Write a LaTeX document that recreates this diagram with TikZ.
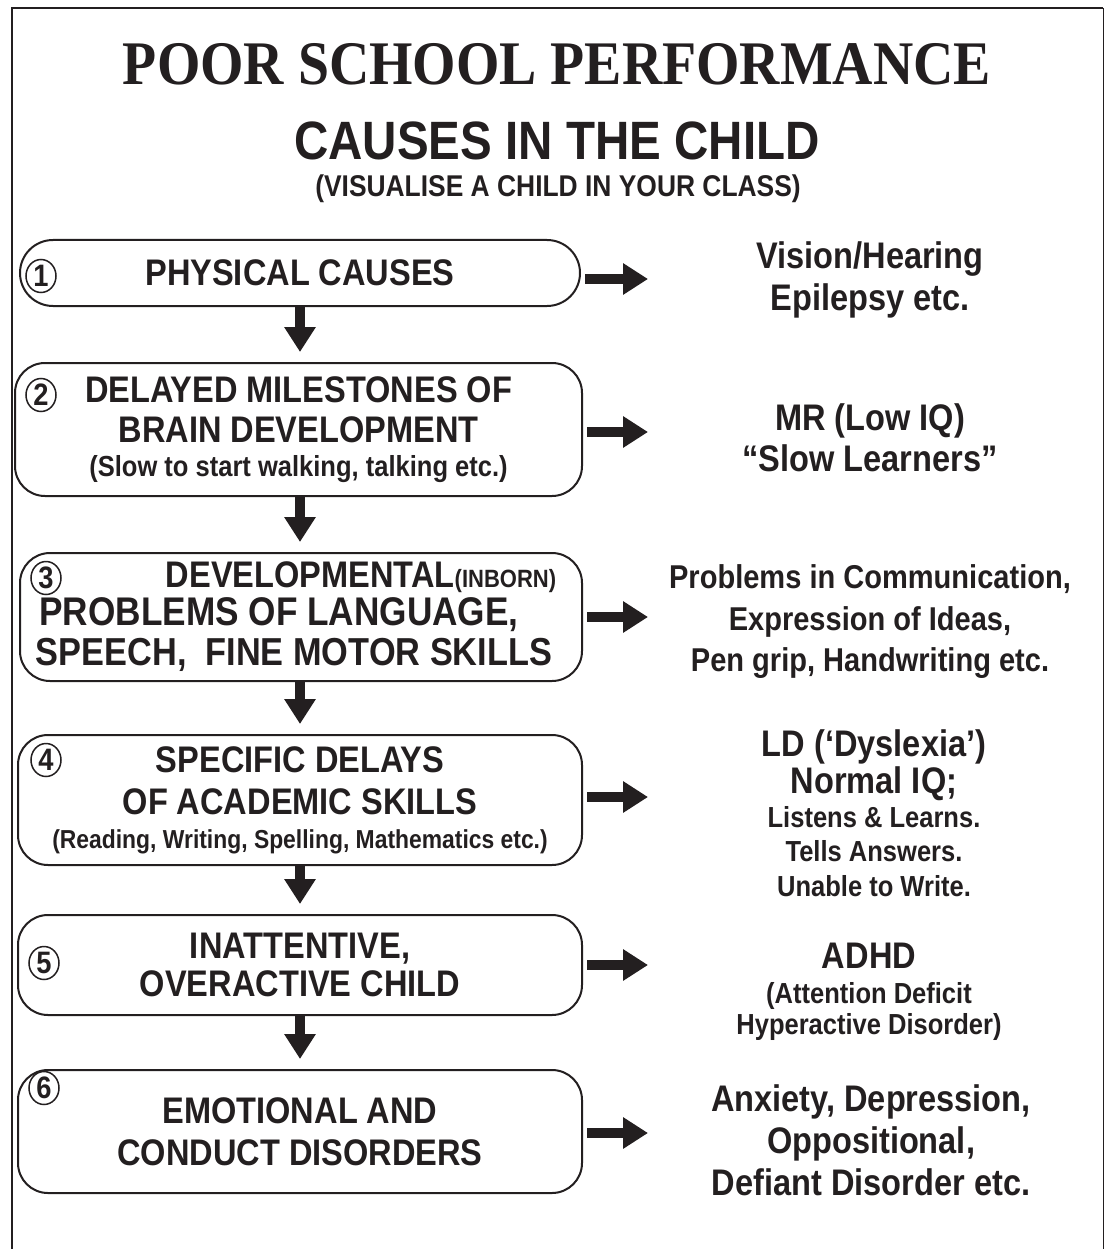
\documentclass[tikz,border=0pt]{standalone}
\usepackage{fontspec}
\setmainfont{Liberation Sans}[FakeStretch=0.88]
\newfontfamily\titlefont{Liberation Serif}[FakeStretch=0.9]
\usetikzlibrary{arrows.meta,shapes.geometric}
\definecolor{ink}{RGB}{35,31,32}
\newcommand{\bigtxt}{\fontsize{37}{42}\selectfont}
\newcommand{\smalltxt}{\fontsize{29}{33}\selectfont}
\newcommand{\tinytxt}{\fontsize{25}{28}\selectfont}

\begin{document}
\begin{tikzpicture}[x=1pt, y=-1pt,
      cause/.style={
        draw=ink,
        line width=2pt,
        rounded corners=30pt,
        align=center,
        inner sep=0pt,
        minimum width=564pt,
        text=ink,
        font=\bfseries\bigtxt
      },
      badge/.style={
        ellipse,
        draw=ink,
        line width=1.5pt,
        minimum width=30pt,
        minimum height=33pt,
        inner sep=0pt,
        text=ink,
        font=\bfseries\fontsize{31}{31}\selectfont
      },
      effect/.style={align=center, inner sep=0pt, text=ink, font=\bfseries\bigtxt},
      fat/.style={draw=ink, line width=10pt, -{Triangle[width=30pt,length=25pt]}},
      down/.style={fat, shorten >=10pt},
      side/.style={fat, shorten <=4pt}
    ]
      \useasboundingbox (0,0) rectangle (1105,1249);

      % frame, open at the bottom
      \draw[ink, line width=2.5pt] (12,1249) -- (12,8) -- (1103,8);
      \draw[ink, line width=1pt] (1103,8) -- (1103,1249);

      % headings
      \node[text=ink, font=\titlefont\bfseries\fontsize{62}{62}\selectfont] (title) at (557,64) {POOR SCHOOL PERFORMANCE};
      \node[text=ink, font=\bfseries\fontsize{54}{54}\selectfont] (sub) at (557,141) {CAUSES IN THE CHILD};
      \node[text=ink, font=\bfseries\fontsize{30}{30}\selectfont] (hint) at (558,189) {(VISUALISE A CHILD IN YOUR CLASS)};

      % causes
      \node[cause, rounded corners=33pt, minimum width=560pt, minimum height=66pt] (b1) at (300,273) {PHYSICAL CAUSES};
      \node[cause, minimum width=567pt, minimum height=133pt] (b2) at (298.5,429.5)
        {DELAYED MILESTONES OF\\[-2pt] BRAIN DEVELOPMENT\\[-8pt] {\smalltxt (Slow to start walking, talking etc.)}};
      \node[cause, minimum width=562pt, minimum height=128pt] (b3) at (301,617)
        {\hspace*{120pt}DEVELOPMENTAL{\tinytxt(INBORN)}\\[-4pt]
         {\fontsize{40}{42}\selectfont PROBLEMS OF LANGUAGE,}\kern44pt\\[-2pt]
         {\fontsize{39}{42}\selectfont SPEECH,\ \ FINE MOTOR SKILLS}\kern14pt};
      \node[cause, minimum height=130pt] (b4) at (300,800)
        {SPECIFIC DELAYS\\ OF ACADEMIC SKILLS\\[-8pt] {\fontsize{26}{30}\selectfont (Reading, Writing, Spelling, Mathematics etc.)}};
      \node[cause, minimum height=100pt] (b5) at (300,965) {INATTENTIVE,\\[-4pt] OVERACTIVE CHILD};
      \node[cause, minimum height=123pt] (b6) at (300,1131.5) {EMOTIONAL AND\\ CONDUCT DISORDERS};

      \node[badge] (n1) at (41,276) {1};
      \node[badge] (n2) at (41,395) {2};
      \node[badge] (n3) at (46,578) {3};
      \node[badge] (n4) at (46,760) {4};
      \node[badge] (n5) at (44,963) {5};
      \node[badge] (n6) at (44,1088) {6};

      % what each cause looks like
      \node[effect] (r1) at (870,280) {Vision/Hearing\\ Epilepsy etc.};
      \node[effect] (r2) at (870,438) {MR (Low IQ)\\[-1pt] “Slow Learners”};
      \node[effect, font=\bfseries\fontsize{33}{42}\selectfont] (r3) at (870,622)
        {Problems in Communication,\\ Expression of Ideas,\\[-1pt] Pen grip, Handwriting etc.};
      \node[effect] (r4) at (874,813)
        {LD (‘Dyslexia’)\\[-5pt] Normal IQ;\\[-8pt] {\smalltxt Listens \& Learns.}\\[-8pt] {\smalltxt Tells Answers.}\\[-7pt] {\smalltxt Unable to Write.}};
      \node[effect] (r5) at (869,992)
        {ADHD\\[-7pt] {\smalltxt (Attention Deficit}\\[-11pt] {\smalltxt Hyperactive Disorder)}};
      \node[effect] (r6) at (871,1140) {Anxiety, Depression,\\ Oppositional,\\ Defiant Disorder etc.};

      % downward chain
      \draw[down] (b1.south) -- (b1.south |- b2.north);
      \draw[down] (b2.south -| b1.south) -- (b1.south |- b3.north);
      \draw[down] (b3.south -| b1.south) -- (b1.south |- b4.north);
      \draw[down] (b4.south) -- (b4.south |- b5.north);
      \draw[down] (b5.south) -- (b5.south |- b6.north);

      % side arrows
      \coordinate (e1) at (648,279);
      \coordinate (e2) at (648,432);
      \coordinate (e3) at (648,617);
      \coordinate (e4) at (648,797);
      \coordinate (e5) at (648,965);
      \coordinate (e6) at (648,1133);
      \draw[side] (b1.east |- e1) -- (e1);
      \draw[side] (b2.east |- e2) -- (e2);
      \draw[side] (b3.east |- e3) -- (e3);
      \draw[side] (b4.east |- e4) -- (e4);
      \draw[side] (b5.east |- e5) -- (e5);
      \draw[side] (b6.east |- e6) -- (e6);
    \end{tikzpicture}
\end{document}
